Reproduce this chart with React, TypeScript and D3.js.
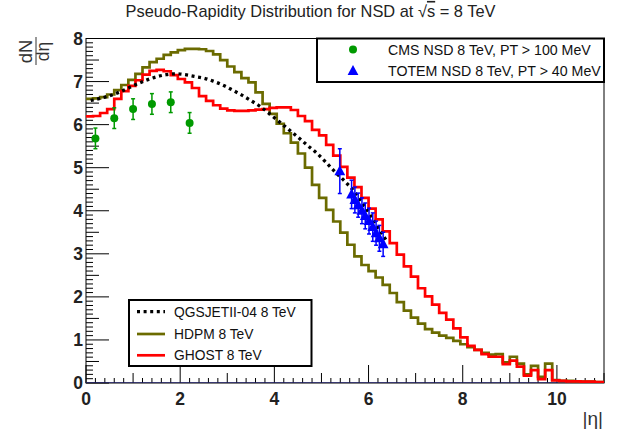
import React from 'react';
import * as d3 from 'd3';

const binWidth = 0.15;

const ghostValues = [
  6.19, 6.20, 6.27, 6.36, 6.60, 6.78, 6.90, 7.03, 7.16, 7.25,
  7.27, 7.24, 7.15, 7.06, 6.98, 6.85, 6.66, 6.55, 6.45, 6.37,
  6.33, 6.32, 6.32, 6.33, 6.35, 6.36, 6.39, 6.40, 6.40, 6.34,
  6.20, 6.08, 5.88, 5.75, 5.53, 5.28, 5.02, 4.77, 4.55, 4.30,
  4.05, 3.80, 3.52, 3.25, 2.98, 2.71, 2.47, 2.20, 2.01, 1.82,
  1.63, 1.47, 1.27, 1.06, 0.86, 0.77, 0.67, 0.61, 0.61, 0.44,
  0.52, 0.38, 0.17, 0.30, 0.09, 0.30, 0.06, 0.05, 0.04, 0.04,
  0.03, 0.03, 0.02, 0.02,
];

const hdpmValues = [
  6.60, 6.61, 6.64, 6.70, 6.80, 6.92, 7.04, 7.18, 7.33, 7.45,
  7.53, 7.62, 7.68, 7.73, 7.76, 7.76, 7.75, 7.71, 7.63, 7.50,
  7.35, 7.22, 7.08, 6.98, 6.75, 6.48, 6.25, 6.02, 5.80, 5.58,
  5.33, 5.00, 4.60, 4.30, 4.02, 3.75, 3.49, 3.21, 2.94, 2.74,
  2.60, 2.45, 2.28, 2.09, 1.88, 1.68, 1.52, 1.38, 1.25, 1.17,
  1.10, 1.05, 0.98, 0.90, 0.83, 0.77, 0.70, 0.66, 0.67, 0.48,
  0.61, 0.45, 0.20, 0.40, 0.14, 0.45, 0.07, 0.05, 0.05, 0.04,
  0.03, 0.03, 0.02, 0.02,
];

const qgsEta = [
  0.1, 0.3, 0.5, 0.7, 0.9, 1.1, 1.3, 1.5, 1.7, 1.9, 2.1, 2.3, 2.5, 2.7, 2.9,
  3.1, 3.3, 3.5, 3.7, 3.9, 4.1, 4.3, 4.5, 4.7, 4.9, 5.1, 5.3, 5.5, 5.7, 5.9,
  6.1, 6.3, 6.4,
];
const qgsValues = [
  6.56, 6.61, 6.67, 6.75, 6.85, 6.95, 7.04, 7.11, 7.16, 7.18, 7.16, 7.12, 7.08, 7.01, 6.92,
  6.81, 6.69, 6.56, 6.42, 6.25, 6.07, 5.89, 5.71, 5.52, 5.34, 5.12, 4.89, 4.68, 4.44, 4.13,
  3.79, 3.44, 3.27,
];

const cmsEta = [0.2, 0.6, 1.0, 1.4, 1.8, 2.2];
const cmsValues = [5.68, 6.15, 6.36, 6.48, 6.52, 6.04];
const cmsErrors = [0.24, 0.24, 0.24, 0.24, 0.24, 0.24];

const totemEta = [5.39, 5.64, 5.71, 5.78, 5.86, 5.93, 6.01, 6.09, 6.16, 6.23, 6.31];
const totemValues = [4.92, 4.38, 4.25, 4.13, 4.0, 3.88, 3.76, 3.62, 3.48, 3.36, 3.22];
const totemErrors = [0.52, 0.33, 0.3, 0.28, 0.3, 0.3, 0.3, 0.33, 0.28, 0.3, 0.28];

const xTickLabels = ['0', '2', '4', '6', '8', '10'];
const yTickLabels = ['0', '1', '2', '3', '4', '5', '6', '7', '8'];

const titleMain = 'Pseudo-Rapidity Distribution for NSD at ';
const titleTail = ' = 8 TeV';
const legendTop = ['CMS NSD 8 TeV, PT > 100 MeV', 'TOTEM NSD 8 TeV, PT > 40 MeV'];
const legendBottom = ['QGSJETII-04 8 TeV', 'HDPM 8 TeV', 'GHOST 8 TeV'];

const FONT = '"Liberation Sans", Arial, Helvetica, sans-serif';
const OLIVE = '#6b6b00';
const RED = '#ff0000';
const GREEN = '#009a00';
const BLUE = '#0000ff';

export default function App() {
  const W = 618;
  const H = 434;
  const L = 86, R = 604, T = 38.5, B = 383;
  const x = d3.scaleLinear().domain([0, 11]).range([L, R]);
  const y = d3.scaleLinear().domain([0, 8]).range([B, T]);

  const histPath = (vals: number[]) => {
    const pts: [number, number][] = vals.map((v, i) => [i * binWidth, v]);
    pts.push([vals.length * binWidth, vals[vals.length - 1]]);
    return d3
      .line<[number, number]>()
      .x((d) => x(d[0]))
      .y((d) => y(d[1]))
      .curve(d3.curveStepAfter)(pts) as string;
  };

  const qgsPath = d3
    .line<number>()
    .x((_, i) => x(qgsEta[i]))
    .y((d) => y(d))
    .curve(d3.curveMonotoneX)(qgsValues) as string;

  const yMinor = d3.range(0, 81);
  const xMinor = d3.range(0, 56);

  const tri = (cx: number, cy: number) =>
    `M${cx},${cy - 6} L${cx + 5.4},${cy + 4} L${cx - 5.4},${cy + 4} Z`;

  return (
    <svg
      width={W}
      height={H}
      style={{ position: 'absolute', left: 0, top: 0, background: '#fff' }}
      fontFamily={FONT}
    >
      <rect x={0} y={0} width={W} height={H} fill="#fff" />
      <defs>
        <clipPath id="frameClip">
          <rect x={L} y={T} width={R - L} height={B - T} />
        </clipPath>
      </defs>

      {/* title */}
      <text x={310.5} y={16.9} fontSize={16.4} fill="#222" textAnchor="middle">
        {titleMain}
        <tspan>√</tspan>
        <tspan style={{ textDecoration: 'overline' }}>s</tspan>
        {titleTail}
      </text>

      {/* frame */}
      <rect x={L} y={T} width={R - L} height={B - T} fill="none" stroke="#000" strokeWidth={1} />

      {/* y ticks */}
      {yMinor.map((k) => {
        const len = k % 10 === 0 ? 23 : k % 5 === 0 ? 13 : 7;
        const yy = y(k / 10);
        return <line key={'yt' + k} x1={L} x2={L + len} y1={yy} y2={yy} stroke="#000" strokeWidth={1} />;
      })}
      {/* x ticks */}
      {xMinor.map((k) => {
        const len = k % 10 === 0 ? 18 : k % 5 === 0 ? 10 : 5;
        const xx = x(k * 0.2);
        if (xx > R) return null;
        return <line key={'xt' + k} x1={xx} x2={xx} y1={B} y2={B - len} stroke="#000" strokeWidth={1} />;
      })}

      {/* tick labels */}
      {yTickLabels.map((t) => (
        <text key={'yl' + t} x={83} y={y(+t) + 6.3} fontSize={17.5} fontWeight="bold" textAnchor="end" fill="#222">
          {t}
        </text>
      ))}
      {xTickLabels.map((t) => (
        <text key={'xl' + t} x={x(+t)} y={404.5} fontSize={17.5} fontWeight="bold" textAnchor="middle" fill="#222">
          {t}
        </text>
      ))}

      {/* axis titles */}
      <text x={603} y={425} fontSize={19} textAnchor="end" fill="#333">|η|</text>
      <g>
        <text transform="translate(31.5,51.5) rotate(-90)" fontSize={18.5} textAnchor="middle" fill="#333">dN</text>
        <line x1={36} x2={36} y1={37} y2={65} stroke="#333" strokeWidth={1} />
        <text transform="translate(49,51.5) rotate(-90)" fontSize={17.5} textAnchor="middle" fill="#333">dη</text>
      </g>

      {/* curves */}
      <g clipPath="url(#frameClip)">
        <line x1={L} x2={R} y1={B} y2={B} stroke="#20206a" strokeWidth={1.6} />
        <path d={histPath(hdpmValues)} fill="none" stroke={OLIVE} strokeWidth={2.7} />
        <path d={histPath(ghostValues)} fill="none" stroke={RED} strokeWidth={2.7} />
        <path d={qgsPath} fill="none" stroke="#000" strokeWidth={3.3} strokeDasharray="3,3.6" />
      </g>

      {/* CMS points */}
      {cmsEta.map((e, i) => {
        const cx = x(e);
        const y1 = y(cmsValues[i] - cmsErrors[i]);
        const y2 = y(cmsValues[i] + cmsErrors[i]);
        return (
          <g key={'cms' + i}>
            <line x1={cx} x2={cx} y1={y1} y2={y2} stroke={GREEN} strokeWidth={1.5} />
            <line x1={cx - 2} x2={cx + 2} y1={y1} y2={y1} stroke={GREEN} strokeWidth={1.5} />
            <line x1={cx - 2} x2={cx + 2} y1={y2} y2={y2} stroke={GREEN} strokeWidth={1.5} />
            <circle cx={cx} cy={y(cmsValues[i])} r={4} fill={GREEN} />
          </g>
        );
      })}

      {/* TOTEM points */}
      {totemEta.map((e, i) => {
        const cx = x(e);
        const y1 = y(totemValues[i] - totemErrors[i]);
        const y2 = y(totemValues[i] + totemErrors[i]);
        return (
          <g key={'tot' + i}>
            <line x1={cx} x2={cx} y1={y1} y2={y2} stroke={BLUE} strokeWidth={1.5} />
            <line x1={cx - 2} x2={cx + 2} y1={y1} y2={y1} stroke={BLUE} strokeWidth={1.5} />
            <line x1={cx - 2} x2={cx + 2} y1={y2} y2={y2} stroke={BLUE} strokeWidth={1.5} />
            <path d={tri(cx, y(totemValues[i]))} fill={BLUE} />
          </g>
        );
      })}

      {/* top legend */}
      <rect x={317} y={T} width={R - 317} height={43.5} fill="#fff" stroke="#000" strokeWidth={2} />
      <circle cx={353} cy={49.5} r={4} fill={GREEN} />
      <path d={tri(353, 71)} fill={BLUE} />
      <text x={388} y={54.5} fontSize={14.2} fill="#111">{legendTop[0]}</text>
      <text x={388} y={76} fontSize={14.2} fill="#111">{legendTop[1]}</text>

      {/* bottom legend */}
      <rect x={129} y={300} width={182.5} height={66} fill="#fff" stroke="#000" strokeWidth={2} />
      <line x1={137} x2={165} y1={311.7} y2={311.7} stroke="#000" strokeWidth={3.3} strokeDasharray="3,3.6" />
      <line x1={137} x2={165} y1={334} y2={334} stroke={OLIVE} strokeWidth={2.7} />
      <line x1={137} x2={165} y1={355.3} y2={355.3} stroke={RED} strokeWidth={2.7} />
      <text x={174} y={316.6} fontSize={13.8} fill="#111">{legendBottom[0]}</text>
      <text x={174} y={338.9} fontSize={13.8} fill="#111">{legendBottom[1]}</text>
      <text x={174} y={360.2} fontSize={13.8} fill="#111">{legendBottom[2]}</text>
    </svg>
  );
}
